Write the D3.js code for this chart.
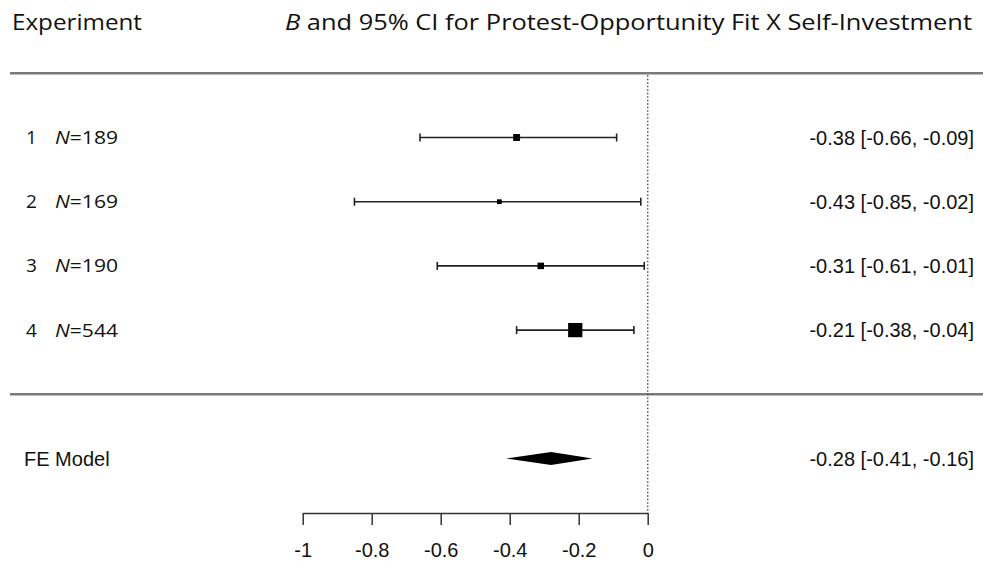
<!DOCTYPE html>
<html lang="en">
<head>
  <meta charset="UTF-8">
  <title>Forest plot</title>
  <script src="https://d3js.org/d3.v7.min.js"></script>
  <style>
    body { margin: 0; background: #fff; }
    svg { display: block; }
  </style>
</head>
<body>
  <svg id="chart"></svg>

  <script>
    // Data
    const experiments = ["1", "2", "3", "4"];
    const sampleSizes = [189, 169, 190, 544];
    const estimates = [-0.38, -0.43, -0.31, -0.21];
    const ciLower = [-0.66, -0.85, -0.61, -0.38];
    const ciUpper = [-0.09, -0.02, -0.01, -0.04];
    const summaryLabel = "FE Model";
    const summaryEstimate = -0.28;
    const summaryLower = -0.41;
    const summaryUpper = -0.16;
    const xTicks = [-1, -0.8, -0.6, -0.4, -0.2, 0];
    const tickLabels = ["-1", "-0.8", "-0.6", "-0.4", "-0.2", "0"];

    const width = 983, height = 561;
    const svg = d3.select("#chart").attr("width", width).attr("height", height);

    const calibri = "'Open Sans', Lato, sans-serif";
    const arial = "'Liberation Sans', Arial, sans-serif";

    const x = d3.scaleLinear().domain([-1, 0]).range([302.7, 647.7]);
    // rows: studies k..1, separator at 0, summary at -1
    const y = d3.scaleLinear().domain([-1, 4]).range([458.5, 137.5]);
    const rows = experiments.map((_, i) => experiments.length - i);

    // marker size from inverse-variance weights, like metafor
    const weights = ciLower.map((lb, i) => {
      const se = (ciUpper[i] - lb) / 3.92;
      return 1 / (se * se);
    });
    const psize = d3.scaleLinear().domain(d3.extent(weights)).range([0.5, 1.5]);

    // plain hyphen minus, as in the original
    const fmt = v => v.toFixed(2);
    const ciText = (e, l, u) => `${fmt(e)} [${fmt(l)}, ${fmt(u)}]`;

    // header
    svg.append("text")
      .attr("x", 12).attr("y", 30)
      .attr("textLength", 130).attr("lengthAdjust", "spacingAndGlyphs")
      .style("font-family", calibri).style("font-size", "21px").style("fill", "#111")
      .text("Experiment");

    const title = svg.append("text")
      .attr("x", 285).attr("y", 30)
      .attr("textLength", 687).attr("lengthAdjust", "spacingAndGlyphs")
      .style("font-family", calibri).style("font-size", "21px").style("fill", "#111");
    title.append("tspan").style("font-style", "italic").text("B");
    title.append("tspan").text(" and 95% CI for Protest-Opportunity Fit X Self-Investment");

    // separator lines
    svg.selectAll("line.sep")
      .data([5, 0])
      .enter().append("line")
      .attr("class", "sep")
      .attr("x1", 10).attr("x2", width)
      .attr("y1", d => y(d)).attr("y2", d => y(d))
      .style("stroke", "#7a7a7a").style("stroke-width", 2.5);

    // reference line at 0
    svg.append("line")
      .attr("x1", x(0)).attr("x2", x(0))
      .attr("y1", y(5) + 2).attr("y2", 513)
      .style("stroke", "#555").style("stroke-width", 1.5)
      .style("stroke-dasharray", "1.5,2");

    // study rows
    const row = svg.append("g")
      .selectAll("g")
      .data(experiments)
      .enter().append("g");

    row.append("line")
      .attr("x1", (d, i) => x(ciLower[i])).attr("x2", (d, i) => x(ciUpper[i]))
      .attr("y1", (d, i) => y(rows[i])).attr("y2", (d, i) => y(rows[i]))
      .style("stroke", "#222").style("stroke-width", 1.6);

    [ciLower, ciUpper].forEach(bound => {
      row.append("line")
        .attr("x1", (d, i) => x(bound[i])).attr("x2", (d, i) => x(bound[i]))
        .attr("y1", (d, i) => y(rows[i]) - 4).attr("y2", (d, i) => y(rows[i]) + 4)
        .style("stroke", "#222").style("stroke-width", 1.6);
    });

    row.append("rect")
      .attr("x", (d, i) => x(estimates[i]) - psize(weights[i]) * 4.75)
      .attr("y", (d, i) => y(rows[i]) - psize(weights[i]) * 4.75)
      .attr("width", (d, i) => psize(weights[i]) * 9.5)
      .attr("height", (d, i) => psize(weights[i]) * 9.5)
      .style("fill", "#000");

    row.append("text")
      .attr("x", 26).attr("y", (d, i) => y(rows[i]) + 6.5)
      .style("font-family", calibri).style("font-size", "19px").style("fill", "#111")
      .text(d => d);

    const nLabel = row.append("text")
      .attr("x", 55).attr("y", (d, i) => y(rows[i]) + 6.5)
      .attr("textLength", 63).attr("lengthAdjust", "spacingAndGlyphs")
      .style("font-family", calibri).style("font-size", "19px").style("fill", "#111");
    nLabel.append("tspan").style("font-style", "italic").text("N");
    nLabel.append("tspan").text((d, i) => "=" + sampleSizes[i]);

    row.append("text")
      .attr("x", 974).attr("y", (d, i) => y(rows[i]) + 7)
      .attr("text-anchor", "end")
      .style("font-family", arial).style("font-size", "20px").style("fill", "#111")
      .text((d, i) => ciText(estimates[i], ciLower[i], ciUpper[i]));

    // summary diamond
    const ys = y(-1);
    svg.append("path")
      .attr("d", `M${x(summaryLower)},${ys} L${x(summaryEstimate)},${ys - 6.5} L${x(summaryUpper)},${ys} L${x(summaryEstimate)},${ys + 6.5} Z`)
      .style("fill", "#000");

    svg.append("text")
      .attr("x", 24).attr("y", ys + 7)
      .style("font-family", arial).style("font-size", "20px").style("fill", "#111")
      .text(summaryLabel);

    svg.append("text")
      .attr("x", 974).attr("y", ys + 7)
      .attr("text-anchor", "end")
      .style("font-family", arial).style("font-size", "20px").style("fill", "#111")
      .text(ciText(summaryEstimate, summaryLower, summaryUpper));

    // x axis
    const axis = svg.append("g")
      .attr("transform", "translate(0,513)")
      .call(d3.axisBottom(x)
        .tickValues(xTicks)
        .tickFormat((d, i) => tickLabels[i])
        .tickSize(12)
        .tickSizeOuter(0)
        .tickPadding(18));

    axis.select(".domain").style("stroke", "#333").style("stroke-width", 1.5);
    axis.selectAll(".tick line").style("stroke", "#333").style("stroke-width", 1.5);
    axis.selectAll(".tick text")
      .style("font-family", arial).style("font-size", "20px").style("fill", "#111");
  </script>
</body>
</html>
